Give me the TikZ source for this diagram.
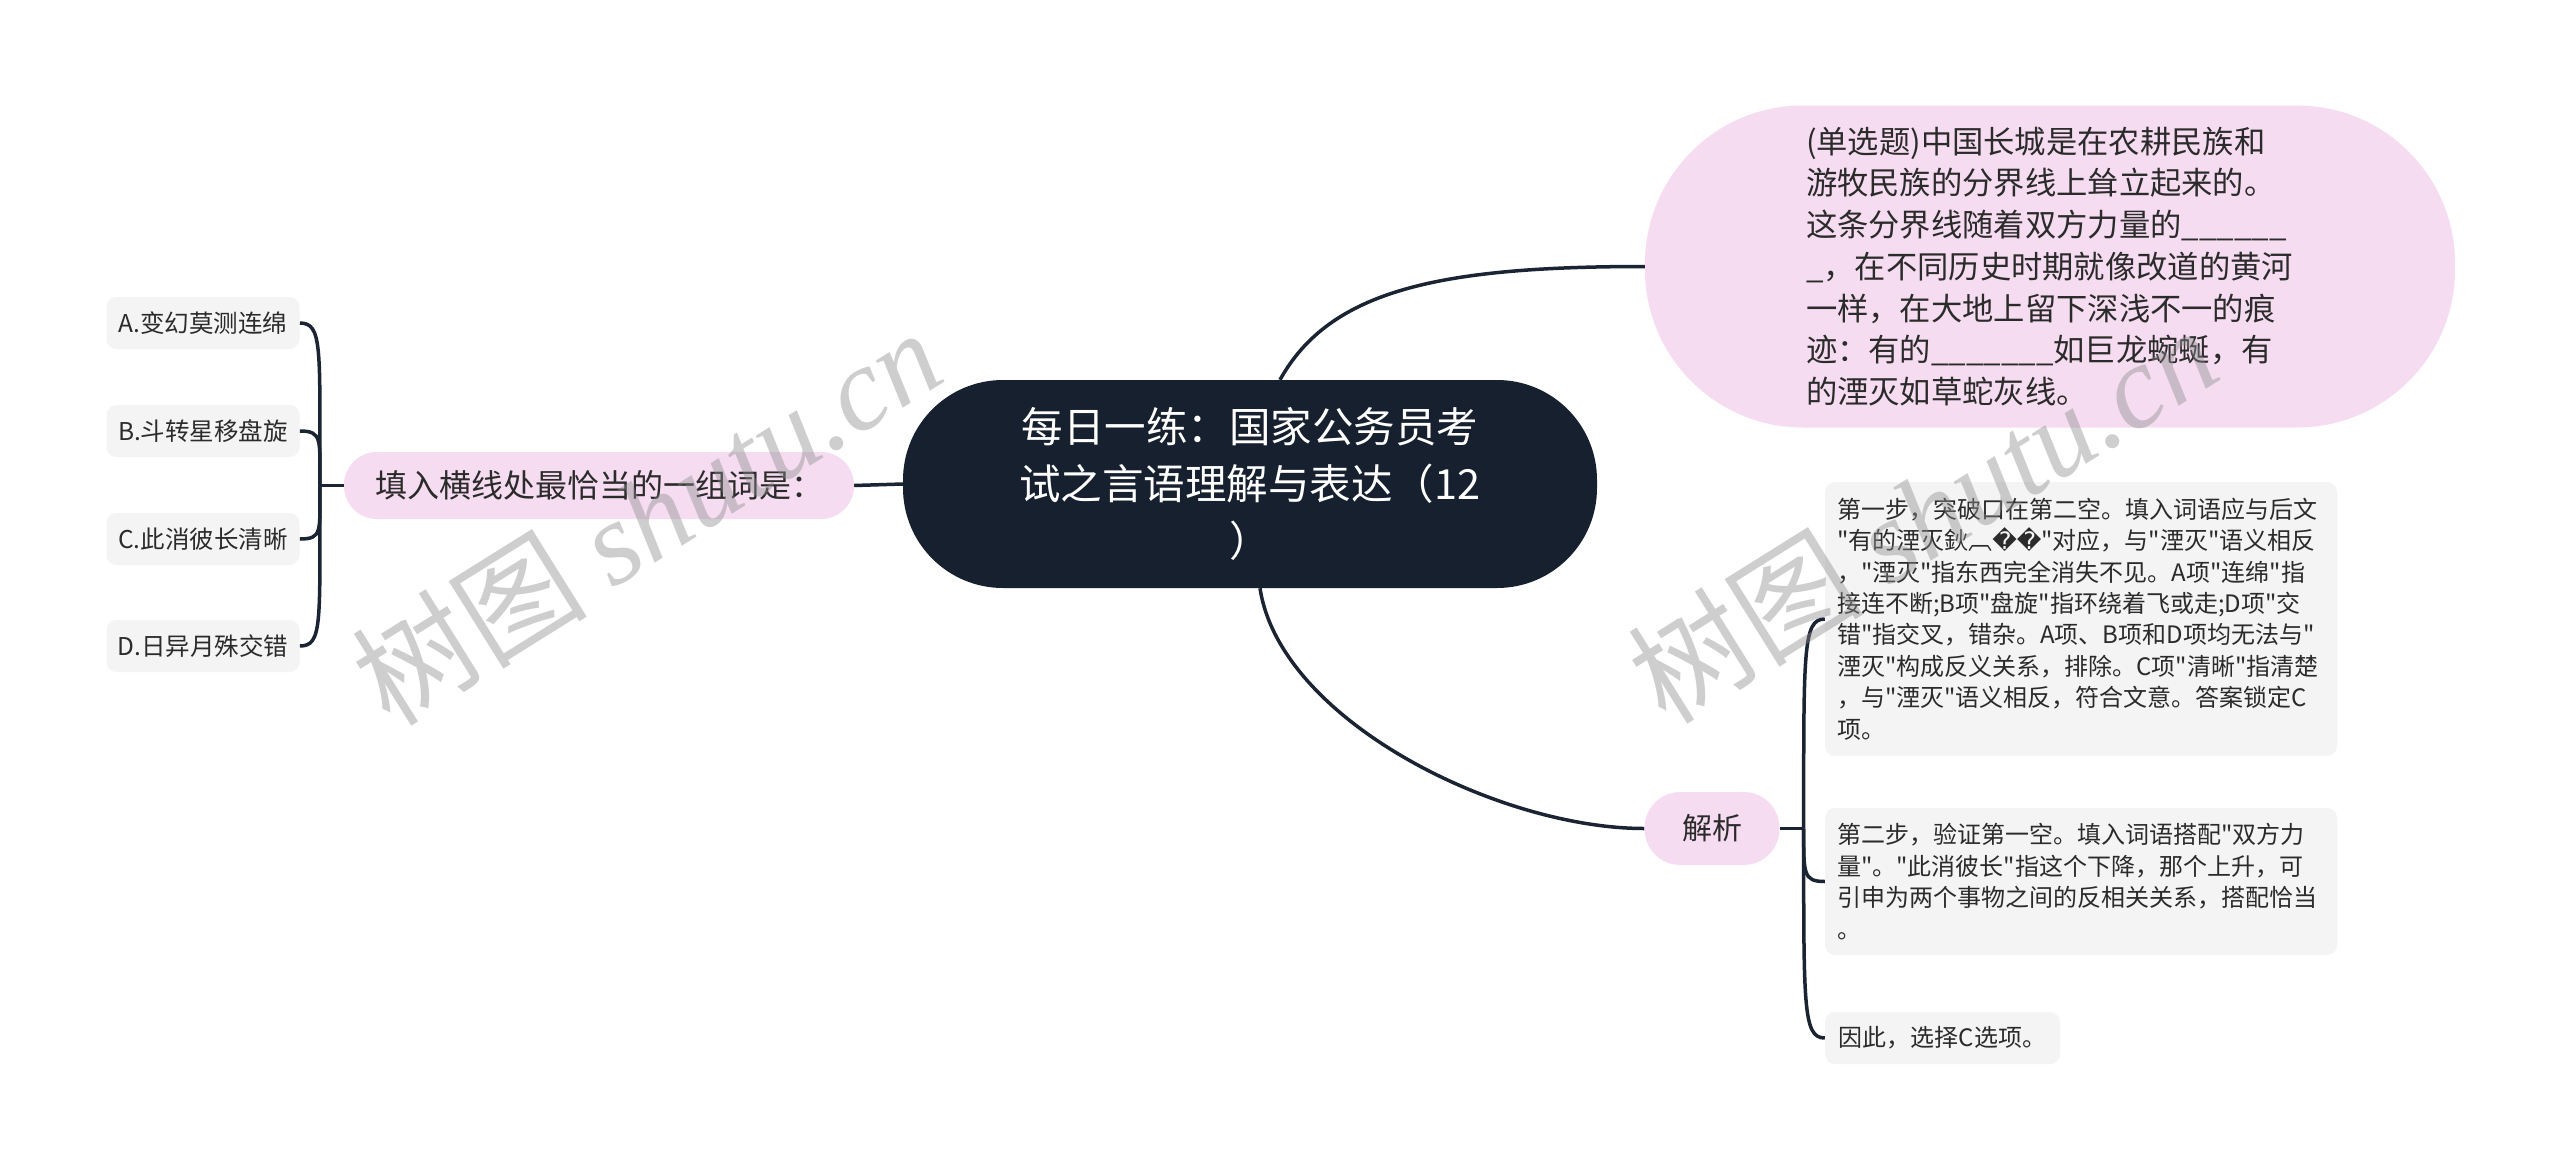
\documentclass[tikz,border=0pt]{standalone}
\usepackage{fontspec}
\setmainfont{Noto Sans CJK SC}[Ligatures=TeXOff]
\newfontfamily\dejavu{DejaVu Sans}
\newfontfamily\wmserif{Liberation Serif}
\usetikzlibrary{calc,backgrounds}
\definecolor{navy}{HTML}{16202F}
\definecolor{pinkfill}{HTML}{F5DCF0}
\definecolor{grayfill}{HTML}{F4F4F4}
\definecolor{txt}{HTML}{2B2B2B}
\definecolor{linec}{HTML}{1B2432}
\tikzset{
  conn/.style={draw=linec, line width=3.5pt},
  rootbox/.style={fill=navy, text=white, rounded corners=100pt, minimum width=694pt, minimum height=208pt, align=center, inner sep=0pt, font=\fontsize{41.5}{57}\selectfont},
  pinkbox/.style={fill=pinkfill, text=txt, inner sep=0pt, font=\fontsize{31.3}{41.7}\selectfont},
  optbox/.style={fill=grayfill, text=txt, rounded corners=10pt, inner sep=0pt, minimum width=193pt, minimum height=52pt, font=\fontsize{24.5}{30}\selectfont},
  notebox/.style={fill=grayfill, text=txt, rounded corners=10pt, inner sep=0pt, align=left, font=\fontsize{24}{31.4}\selectfont},
  wmark/.style={text=black!45, text opacity=0.42, rotate=32, inner sep=0pt}
}
\begin{document}
\begin{tikzpicture}[x=1pt,y=-1pt]
\useasboundingbox (0,0) rectangle (2560,1170);

% nodes
\node[rootbox] (c) at (1250,484) {每日一练：国家公务员考\\试之言语理解与表达（12\\）};

\node[pinkbox, rounded corners=158pt, minimum width=810pt, minimum height=322pt, text width=488pt, align=left] (Q) at (2050,266.5)
{(单选题)中国长城是在农耕民族和\\游牧民族的分界线上耸立起来的。\\这条分界线随着双方力量的\_\_\_\_\_\_\\\_，在不同历史时期就像改道的黄河\\一样，在大地上留下深浅不一的痕\\迹：有的\_\_\_\_\_\_\_如巨龙蜿蜒，有\\的湮灭如草蛇灰线。};

\node[pinkbox, rounded corners=33pt, minimum width=510pt, minimum height=67pt, font=\fontsize{32}{38}\selectfont] (L) at (599,485.5) {填入横线处最恰当的一组词是：};

\node[optbox] (A) at (203,323) {A.变幻莫测连绵};
\node[optbox] (B) at (203,431) {B.斗转星移盘旋};
\node[optbox] (C) at (203,539) {C.此消彼长清晰};
\node[optbox] (D) at (203,646) {D.日异月殊交错};

\node[pinkbox, rounded corners=36pt, minimum width=135pt, minimum height=73pt, font=\fontsize{30}{36}\selectfont] (J) at (1712,828.5) {解析};

\node[notebox, text width=488pt, minimum width=512pt, minimum height=274pt] (N1) at (2081,619)
{第一步，突破口在第二空。填入词语应与后文\\"有的湮灭鈥︹{\dejavu ��}"对应，与"湮灭"语义相反\\，"湮灭"指东西完全消失不见。A项"连绵"指\\接连不断;B项"盘旋"指环绕着飞或走;D项"交\\错"指交叉，错杂。A项、B项和D项均无法与"\\湮灭"构成反义关系，排除。C项"清晰"指清楚\\，与"湮灭"语义相反，符合文意。答案锁定C\\项。};

\node[notebox, text width=488pt, minimum width=512pt, minimum height=147pt] (N2) at (2081,881.5)
{第二步，验证第一空。填入词语搭配"双方力\\量"。"此消彼长"指这个下降，那个上升，可\\引申为两个事物之间的反相关关系，搭配恰当\\。};

\node[notebox, minimum width=235pt, minimum height=52pt] (N3) at (1942.5,1038) {因此，选择C选项。};

\coordinate (jL) at ($(L.west)+(-24,0)$);
\coordinate (jR) at ($(J.east)+(24,0)$);

\begin{pgfonlayer}{background}
\fill[white] (0,0) rectangle (2560,1170);
\draw[conn] ($(c.north)+(30,0)$) .. controls +(50,-90) and +(-205,0) .. (Q.west);
\draw[conn] ($(c.south)+(10,0)$) .. controls +(20,132) and +(-146,0) .. (J.west);
\draw[conn] (c.west) -- (L.east);
\draw[conn] (L.west) -- (jL);
\draw[conn] (jL) .. controls +(0,-138) and +(23,0) .. (A.east);
\draw[conn] (jL) .. controls +(0,-46) and +(23,0) .. (B.east);
\draw[conn] (jL) .. controls +(0,46) and +(23,0) .. (C.east);
\draw[conn] (jL) .. controls +(0,138) and +(23,0) .. (D.east);
\draw[conn] (J.east) -- (jR);
\draw[conn] (jR) .. controls +(0,-178) and +(-22,0) .. (N1.west);
\draw[conn] (jR) .. controls +(0,45) and +(-22,0) .. (N2.west);
\draw[conn] (jR) .. controls +(0,178) and +(-22,0) .. (N3.west);
\end{pgfonlayer}

% watermarks
\node[wmark] (w1) at (646,516) {\fontsize{118}{118}\selectfont 树图 {\wmserif\itshape shutu.cn}};
\node[wmark] (w2) at (1922,514) {\fontsize{118}{118}\selectfont 树图 {\wmserif\itshape shutu.cn}};
\end{tikzpicture}
\end{document}
